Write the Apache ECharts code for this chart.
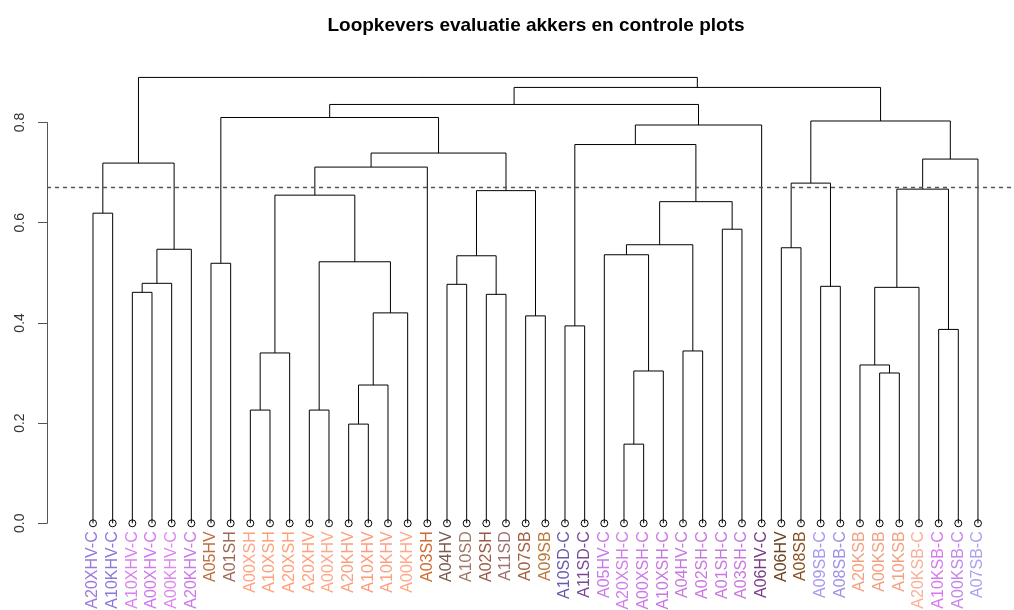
<!DOCTYPE html>
<html>
<head>
<meta charset="utf-8">
<script src="https://cdn.jsdelivr.net/npm/echarts@6/dist/echarts.min.js"></script>
<style>html,body{margin:0;padding:0;background:#fff;}#c{width:1014px;height:610px;}</style>
</head>
<body>
<div id="c"></div>
<script>
// Leaf labels in dendrogram order (left to right)
var leafLabels = ["A20XHV-C","A10KHV-C","A10XHV-C","A00XHV-C","A00KHV-C","A20KHV-C",
  "A05HV","A01SH","A00XSH","A10XSH","A20XSH","A20XHV","A00XHV","A20KHV","A10XHV","A10KHV","A00KHV","A03SH",
  "A04HV","A10SD","A02SH","A11SD","A07SB","A09SB",
  "A10SD-C","A11SD-C","A05HV-C","A20XSH-C","A00XSH-C","A10XSH-C","A04HV-C","A02SH-C","A01SH-C","A03SH-C","A06HV-C",
  "A06HV","A08SB","A09SB-C","A08SB-C","A20KSB","A00KSB","A10KSB","A20KSB-C","A10KSB-C","A00KSB-C","A07SB-C"];
var leafColors = ["#9a78dd","#8c78dc","#da80f2","#d078ee","#dc88f0","#cc78ea",
  "#c07040","#a06858","#ffa484","#ffa07a","#ffa07a","#ffa07a","#ffa888","#f8a080","#ff9a78","#fca080","#ffa98a","#d06a30",
  "#7a5a50","#a07868","#9a5a48","#a07070","#a06040","#b87838",
  "#6a5aa8","#7a4a98","#cc78e8","#d080e8","#cc78e8","#c878e0","#c878e0","#c878e0","#c878e0","#c878e0","#7a3a8a",
  "#6a4020","#8b5020","#a898f0","#a090e8","#f4a080","#f4a080","#f4a080","#f8b098","#d878f0","#c488e8","#aca0f0"];
// Merge table (R hclust style): negative = leaf position (1-based), positive = earlier merge (1-based)
var mergeLeft  = [-28,-14,-9,-12, 2,-41, 1,-40, 3,-31,-44,-25,-23, 5,-21,-3, 8,-38,-19,16,-7, 4,19,-27,20,-36,24,-33,-1,27, 9,23,17,26,31,29,33,35,12,39,34,21,42,43,36];
var mergeRight = [-29,-15,-10,-13,-16,-42,-30, 6,-11,-32,-45,-26,-24,-17,-22,-4,-43,-39,-20,-5,-8,14,15, 7,-6,-37,10,-34,-2,28,22,13,11,18,-18,25,-46,32,30,-35,37,38,40,41,44];
var mergeHeight = [0.158,0.198,0.226,0.226,0.276,0.300,0.304,0.316,0.340,0.344,0.387,0.394,0.414,0.420,0.457,0.461,0.471,0.473,0.477,0.479,
  0.519,0.522,0.534,0.536,0.547,0.550,0.556,0.587,0.619,0.642,0.655,0.664,0.667,0.679,0.711,0.719,0.727,0.739,0.756,0.795,
  0.803,0.810,0.836,0.870,0.890];
var cutHeight = 0.666;
var yTicks = [0, 0.2, 0.4, 0.6, 0.8];
var titleText = "Loopkevers evaluatie akkers en controle plots";

// Build segments from merge table
var nodeX = [], segData = [];
function childPos(c){ return c < 0 ? [-c, 0] : [nodeX[c-1], mergeHeight[c-1]]; }
for (var i = 0; i < mergeHeight.length; i++) {
  var a = childPos(mergeLeft[i]), b = childPos(mergeRight[i]);
  nodeX.push((a[0] + b[0]) / 2);
  segData.push([a[0], a[1], b[0], b[1], mergeHeight[i]]);
}
var leafData = leafLabels.map(function(l, i){ return [i + 1, 0]; });

var chart = echarts.init(document.getElementById('c'));
var FONT = 'Liberation Sans, Arial, sans-serif';
chart.setOption({
  animation: false,
  backgroundColor: '#fff',
  title: { text: titleText, left: 531, top: 11, textAlign: 'center',
    textStyle: { fontFamily: FONT, fontSize: 19, fontWeight: 'bold', color: '#000' } },
  grid: { left: 47, right: 2, top: 122.5, bottom: 86.7, outerBoundsMode: 'none', containLabel: false },
  xAxis: { type: 'value', min: -1.339, max: 47.73, show: false },
  yAxis: { type: 'value', min: yTicks[0], max: yTicks[yTicks.length-1], interval: 0.2,
    axisLine: { show: true, onZero: false, lineStyle: { color: '#555', width: 1 } },
    axisTick: { show: true, length: 9, lineStyle: { color: '#555' } },
    splitLine: { show: false },
    axisLabel: { rotate: 90, margin: 20, fontFamily: FONT, fontSize: 14, color: '#333',
      formatter: function(v){ return v.toFixed(1); } } },
  series: [
    { type: 'custom', clip: false, data: segData, silent: true,
      renderItem: function(params, api){
        var x1 = api.value(0), y1 = api.value(1), x2 = api.value(2), y2 = api.value(3), h = api.value(4);
        return { type: 'polyline', shape: { points: [api.coord([x1,y1]), api.coord([x1,h]), api.coord([x2,h]), api.coord([x2,y2])] },
          style: { stroke: '#000', lineWidth: 1, fill: null } };
      },
      markLine: { silent: true, symbol: 'none', label: { show: false },
        lineStyle: { type: [4, 4], color: '#555', width: 1.3 },
        data: [{ yAxis: cutHeight }] }
    },
    { type: 'custom', clip: false, data: leafData, silent: true,
      renderItem: function(params, api){
        var p = api.coord([api.value(0), api.value(1)]);
        var idx = params.dataIndex;
        return { type: 'group', children: [
          { type: 'circle', shape: { cx: p[0], cy: p[1], r: 3.5 }, style: { stroke: '#000', fill: null, lineWidth: 1 } },
          { type: 'text', x: p[0], y: p[1] + 8, rotation: Math.PI / 2,
            style: { text: leafLabels[idx], fill: leafColors[idx], font: '16px ' + FONT, align: 'right', verticalAlign: 'middle' } }
        ] };
      }
    }
  ]
});
</script>
</body>
</html>
